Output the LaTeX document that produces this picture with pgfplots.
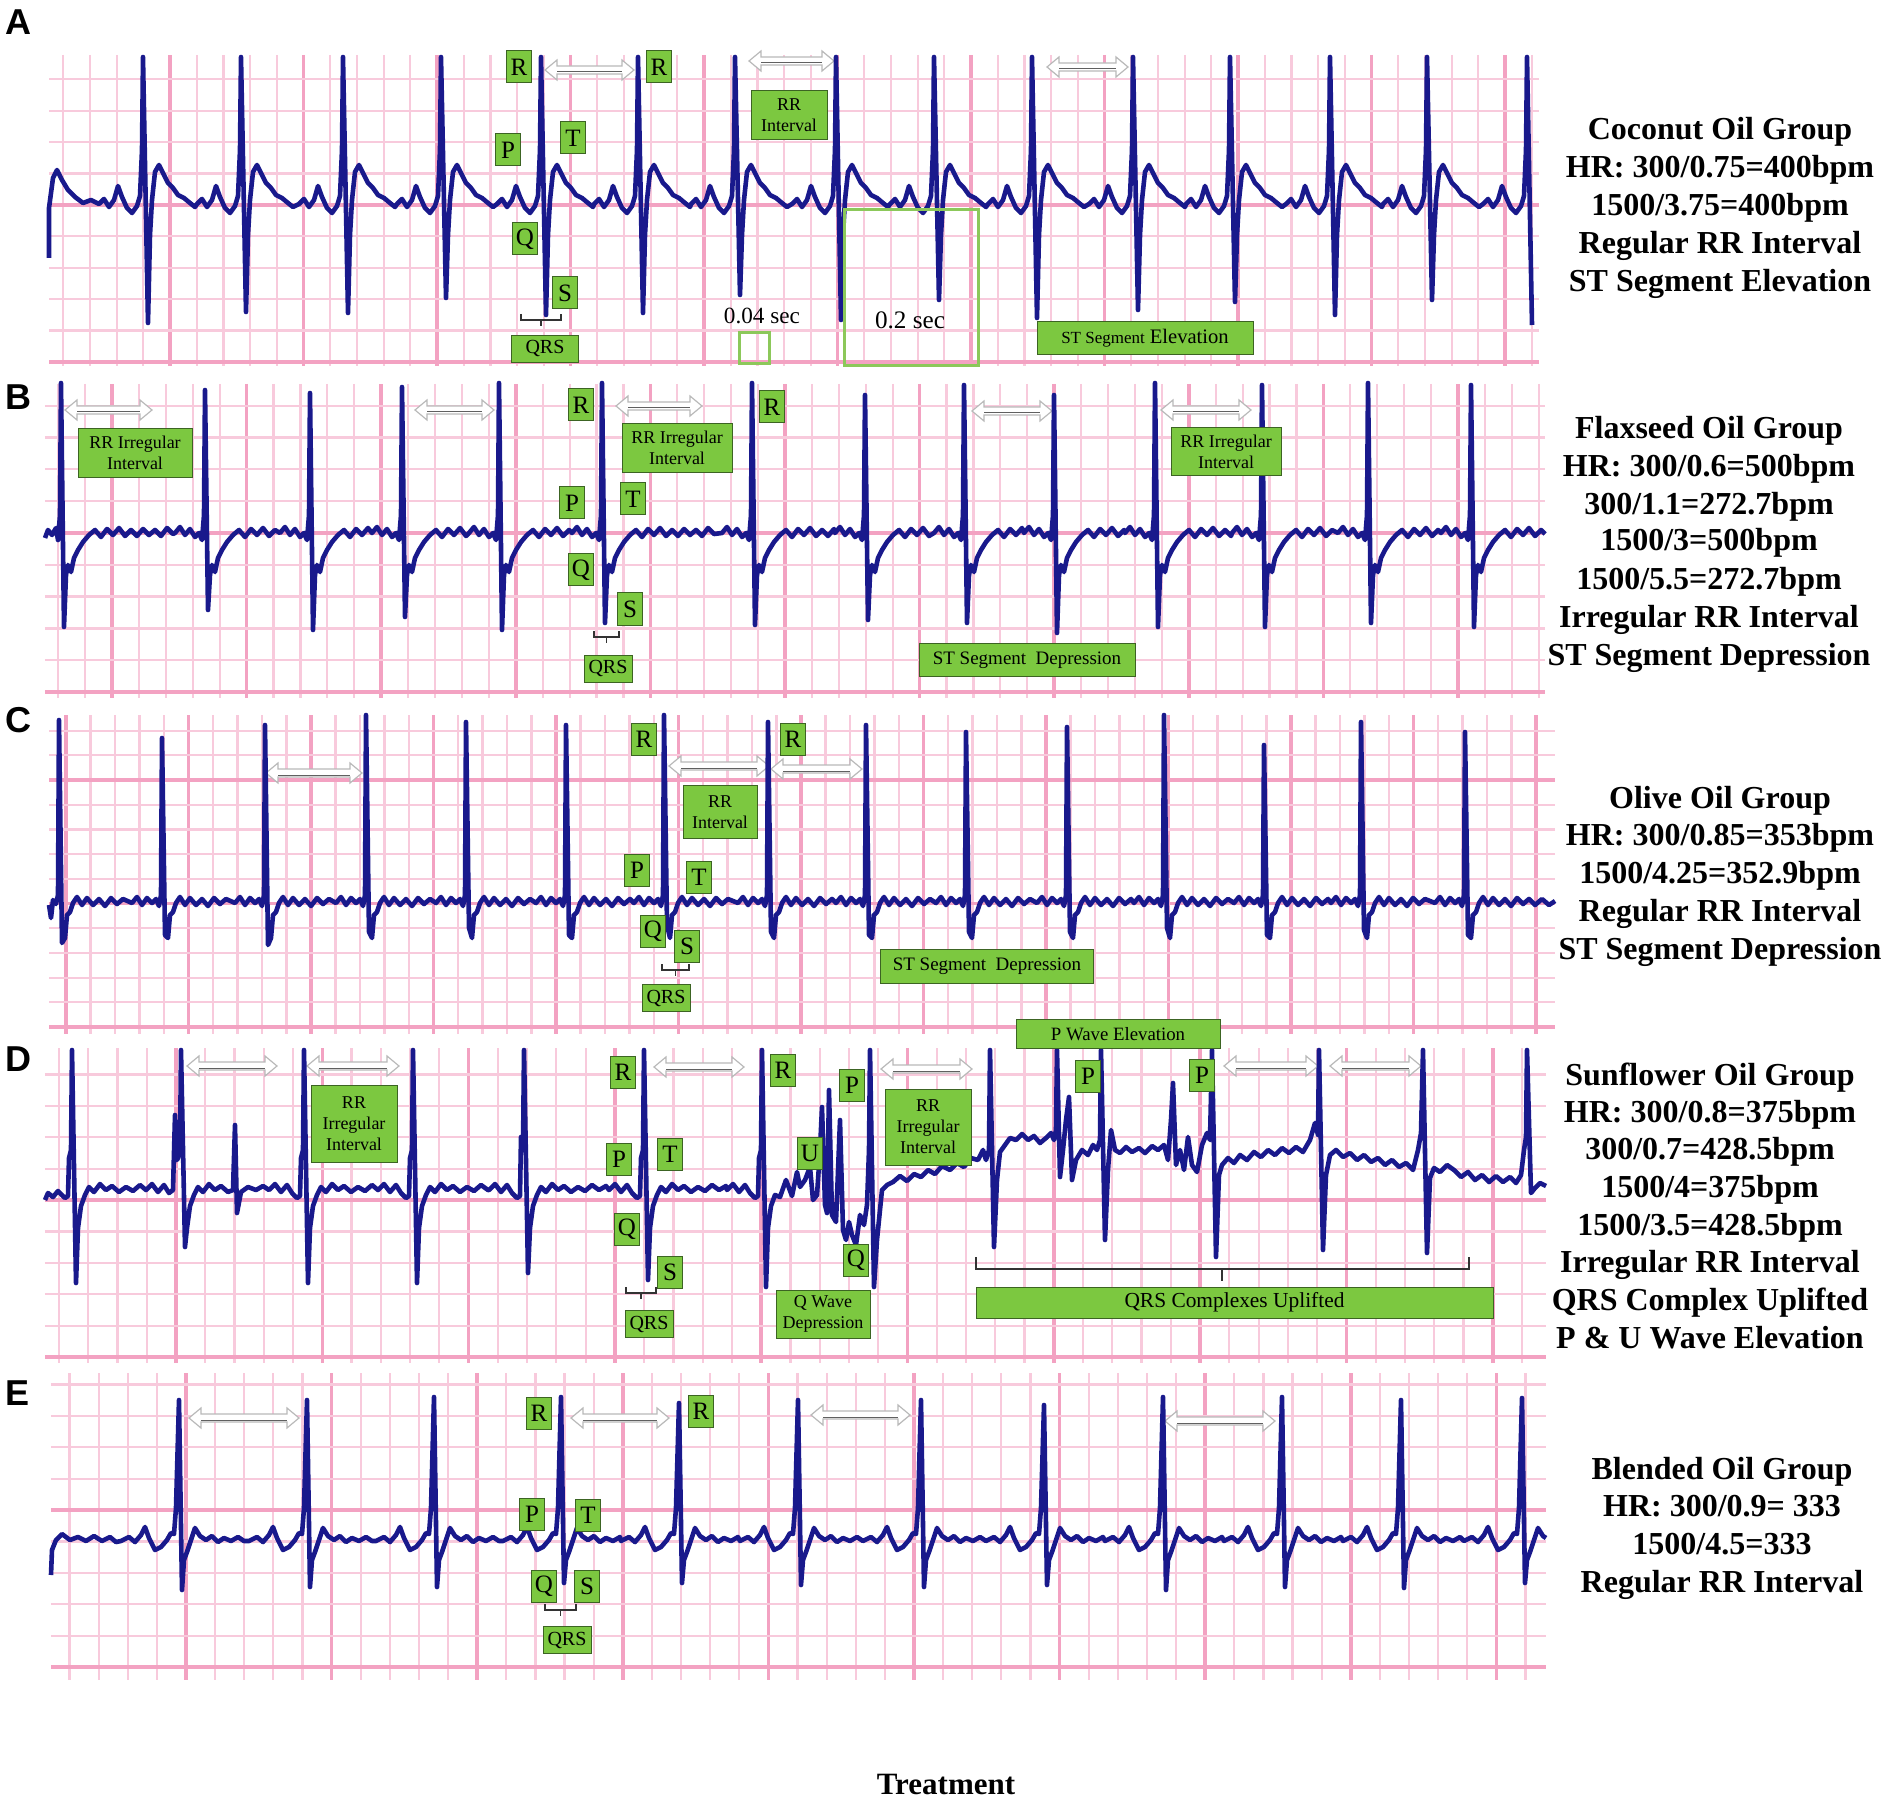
\documentclass[border=0pt]{standalone}
\usepackage{pgfplots}
\pgfplotsset{compat=1.18}
\usepackage{fontspec}
\setmainfont{Liberation Serif}
\newfontfamily\panelfont{Liberation Sans}
\definecolor{ecg}{RGB}{25,25,140}
\definecolor{gmaj}{RGB}{243,162,194}
\definecolor{gmin}{RGB}{248,202,220}
\definecolor{lg}{RGB}{124,200,64}
\definecolor{lgd}{RGB}{60,100,35}
\definecolor{sq}{RGB}{140,200,90}
\tikzset{gbox/.style={fill=lg, draw=lgd, line width=0.5pt, inner sep=1pt, align=center, text=black}}
\newcommand{\fs}[2]{\fontsize{#1}{#2}\selectfont}
\newcommand{\lbox}[2]{\node[gbox,minimum width=12.5pt,minimum height=16pt,font=\fs{12.5}{14}] at (axis cs:#1) {#2};}
\newcommand{\gbx}[3]{\node[gbox,#1] at (axis cs:#2) {#3};}
\newcommand{\dar}[3]{%
\filldraw[fill=white, draw=gray!55, line width=0.6pt] (axis cs:#1,#3) -- (axis cs:{#1+12},{#3-10}) -- (axis cs:{#1+12},{#3-4}) -- (axis cs:{#2-12},{#3-4}) -- (axis cs:{#2-12},{#3-10}) -- (axis cs:#2,#3) -- (axis cs:{#2-12},{#3+10}) -- (axis cs:{#2-12},{#3+4}) -- (axis cs:{#1+12},{#3+4}) -- (axis cs:{#1+12},{#3+10}) -- cycle;
\draw[gray!75!black, line width=0.5pt] (axis cs:{#1+12},{#3+2}) -- (axis cs:{#2-12},{#3+2});}
\newcommand{\qb}[3]{%
\draw[black!80, line width=0.8pt] (axis cs:#1,{#3-6}) -- (axis cs:#1,#3) -- (axis cs:#2,#3) -- (axis cs:#2,{#3-6});
\draw[black!80, line width=0.8pt] (axis cs:{(#1+#2)/2},#3) -- (axis cs:{(#1+#2)/2},{#3+6});}
\newcommand{\rtfont}{\fs{16}{19}\bfseries}
\newcommand{\rt}[2]{\node[anchor=base,font=\rtfont] at (axis cs:#1) {#2};}
\newcommand{\plabel}[2]{\node[font=\panelfont\fs{18}{20}\bfseries] at (axis cs:#1) {#2};}
\pgfplotsset{ecgax/.style={scale only axis, y dir=reverse, clip=false, grid=both,
  major grid style={gmaj,line width=1.8pt}, minor grid style={gmin,line width=1.1pt},
  axis line style={draw=none}, major tick length=0pt, minor tick length=0pt,
  xticklabels={}, yticklabels={}, anchor=north west},
  trace/.style={ecg, line width=2.3pt, line join=round, mark=none}}
\begin{document}
\begin{tikzpicture}
\useasboundingbox (0,0) rectangle (951pt,-903.5pt);
% ---------------- Panel A ----------------
\begin{axis}[ecgax, at={(24.5pt,-27.5pt)}, width=745pt, height=155.5pt,
  xmin=49, xmax=1539, ymin=55, ymax=366,
  xtick={170,303.5,...,1540}, minor xtick={63.2,89.9,...,1540},
  ytick={205,362}, minor ytick={79.4,110.8,...,366}]
\dar{545}{634}{70}\dar{749}{834}{61}\dar{1047}{1128}{67}
\addplot[trace] coordinates {(49,258) (49,208) (53,178) (57,170) (62,180) (68,190) (75,197) (83,203) (91,200)
(99,204) (104,199) (109,207) (114,200) (118,186) (122,197) (127,208) (132,213) (137,206) (140,196) (142,150) (143,57) (148,323) (150,235) (152,200) (155,172) (159,165) (163,173) (168,183) (173,188) (178,195) (184,198) (190,203) (195,207)
(197,204) (202,199) (207,207) (212,200) (216,186) (220,197) (225,208) (230,213) (235,206) (238,196) (240,150) (241,57) (246,312) (248,235) (250,200) (253,172) (257,165) (261,173) (266,183) (271,188) (276,195) (282,198) (288,203) (293,207)
(299,204) (304,199) (309,207) (314,200) (318,186) (322,197) (327,208) (332,213) (337,206) (340,196) (342,150) (343,57) (348,313) (350,235) (352,200) (355,172) (359,165) (363,173) (368,183) (373,188) (378,195) (384,198) (390,203) (395,207)
(397,204) (402,199) (407,207) (412,200) (416,186) (420,197) (425,208) (430,213) (435,206) (438,196) (440,150) (441,57) (446,298) (448,235) (450,200) (453,172) (457,165) (461,173) (466,183) (471,188) (476,195) (482,198) (488,203) (493,207)
(497,204) (502,199) (507,207) (512,200) (516,186) (520,197) (525,208) (530,213) (535,206) (538,196) (540,150) (541,57) (546,315) (548,235) (550,200) (553,172) (557,165) (561,173) (566,183) (571,188) (576,195) (582,198) (588,203) (593,207)
(594,204) (599,199) (604,207) (609,200) (613,186) (617,197) (622,208) (627,213) (632,206) (635,196) (637,150) (638,57) (643,313) (645,235) (647,200) (650,172) (654,165) (658,173) (663,183) (668,188) (673,195) (679,198) (685,203) (690,207)
(691,204) (696,199) (701,207) (706,200) (710,186) (714,197) (719,208) (724,213) (729,206) (732,196) (734,150) (735,57) (740,295) (742,235) (744,200) (747,172) (751,165) (755,173) (760,183) (765,188) (770,195) (776,198) (782,203) (787,207)
(792,204) (797,199) (802,207) (807,200) (811,186) (815,197) (820,208) (825,213) (830,206) (833,196) (835,150) (836,57) (841,320) (843,235) (845,200) (848,172) (852,165) (856,173) (861,183) (866,188) (871,195) (877,198) (883,203) (888,207)
(890,204) (895,199) (900,207) (905,200) (909,186) (913,197) (918,208) (923,213) (928,206) (931,196) (933,150) (934,57) (939,300) (941,235) (943,200) (946,172) (950,165) (954,173) (959,183) (964,188) (969,195) (975,198) (981,203) (986,207)
(988,204) (993,199) (998,207) (1003,200) (1007,186) (1011,197) (1016,208) (1021,213) (1026,206) (1029,196) (1031,150) (1032,57) (1037,318) (1039,235) (1041,200) (1044,172) (1048,165) (1052,173) (1057,183) (1062,188) (1067,195) (1073,198) (1079,203) (1084,207)
(1089,204) (1094,199) (1099,207) (1104,200) (1108,186) (1112,197) (1117,208) (1122,213) (1127,206) (1130,196) (1132,150) (1133,57) (1138,310) (1140,235) (1142,200) (1145,172) (1149,165) (1153,173) (1158,183) (1163,188) (1168,195) (1174,198) (1180,203) (1185,207)
(1186,204) (1191,199) (1196,207) (1201,200) (1205,186) (1209,197) (1214,208) (1219,213) (1224,206) (1227,196) (1229,150) (1230,57) (1235,302) (1237,235) (1239,200) (1242,172) (1246,165) (1250,173) (1255,183) (1260,188) (1265,195) (1271,198) (1277,203) (1282,207)
(1286,204) (1291,199) (1296,207) (1301,200) (1305,186) (1309,197) (1314,208) (1319,213) (1324,206) (1327,196) (1329,150) (1330,57) (1335,315) (1337,235) (1339,200) (1342,172) (1346,165) (1350,173) (1355,183) (1360,188) (1365,195) (1371,198) (1377,203) (1382,207)
(1383,204) (1388,199) (1393,207) (1398,200) (1402,186) (1406,197) (1411,208) (1416,213) (1421,206) (1424,196) (1426,150) (1427,57) (1432,300) (1434,235) (1436,200) (1439,172) (1443,165) (1447,173) (1452,183) (1457,188) (1462,195) (1468,198) (1474,203) (1479,207)
(1483,204) (1488,199) (1493,207) (1498,200) (1502,186) (1506,197) (1511,208) (1516,213) (1521,206) (1524,196) (1526,150) (1527,57) (1532,325)};
\lbox{519,67}{R}\lbox{659,67}{R}\lbox{508,150}{P}\lbox{573,138}{T}\lbox{525,239}{Q}\lbox{565,293}{S}
\gbx{minimum width=38pt,minimum height=24.5pt,font=\fs{9}{10.5}}{789,115}{RR\\Interval}
\qb{521}{561}{320}
\gbx{minimum width=33.5pt,minimum height=13.5pt,font=\fs{10}{11}}{545,349}{QRS}
\node[font=\fs{11.6}{13}] at (axis cs:762,316) {0.04 sec};
\node[font=\fs{12.6}{14}] at (axis cs:910,320) {0.2 sec};
\draw[sq, line width=1.5pt] (axis cs:739,333) rectangle (axis cs:769,364);
\draw[sq, line width=1.5pt] (axis cs:844,210) rectangle (axis cs:978,366);
\gbx{minimum width=108pt,minimum height=16.5pt}{1145,338}{{\fs{8.5}{10}ST Segment} {\fs{10.3}{12}Elevation}}
\plabel{18,22}{A}
\rt{1720,140}{Coconut Oil Group}
\rt{1720,178}{HR: 300/0.75=400bpm}
\rt{1720,216}{1500/3.75=400bpm}
\rt{1720,254}{Regular RR Interval}
\rt{1720,292}{ST Segment Elevation}
\end{axis}
% ---------------- Panel B ----------------
\begin{axis}[ecgax, at={(22.5pt,-192pt)}, width=750pt, height=157pt,
  xmin=45, xmax=1545, ymin=384, ymax=698,
  xtick={112,246.6,...,1546}, minor xtick={58.16,85.08,...,1546},
  ytick={533,692}, minor ytick={405.8,437.6,...,698}]
\dar{65}{152}{410}\dar{415}{494}{410}\dar{616}{702}{406}\dar{972}{1052}{411}\dar{1161}{1251}{410}
\addplot[trace] coordinates {(45,538) (48,530) (52,535) (56,528) (58,540) (60,515) (61,383) (64,627) (66,575) (68,565) (71,572) (74,558) (78,550) (83,542) (89,535) (95,530) (101,537) (107,529) (113,535) (119,528) (125,536) (131,530) (137,536) (143,529) (149,535) (155,530) (161,536) (167,528) (173,534)
(175,533) (180,527) (185,535) (190,529) (195,537) (199,533) (202,540) (204,515) (205,390) (208,610) (210,575) (212,565) (215,572) (218,558) (222,550) (227,542) (233,535) (239,530) (245,537) (251,529) (257,535) (263,528) (269,536) (275,530)
(280,533) (285,527) (290,535) (295,529) (300,537) (304,533) (307,540) (309,515) (310,393) (313,630) (315,575) (317,565) (320,572) (323,558) (327,550) (332,542) (338,535) (344,530) (350,537) (356,529) (362,535) (368,528)
(372,533) (377,527) (382,535) (387,529) (392,537) (396,533) (399,540) (401,515) (402,387) (405,617) (407,575) (409,565) (412,572) (415,558) (419,550) (424,542) (430,535) (436,530) (442,537) (448,529) (454,535) (460,528) (466,536)
(469,533) (474,527) (479,535) (484,529) (489,537) (493,533) (496,540) (498,515) (499,383) (502,630) (504,575) (506,565) (509,572) (512,558) (516,550) (521,542) (527,535) (533,530) (539,537) (545,529) (551,535) (557,528) (563,536) (569,530)
(572,533) (577,527) (582,535) (587,529) (592,537) (596,533) (599,540) (601,515) (602,383) (605,623) (607,575) (609,565) (612,572) (615,558) (619,550) (624,542) (630,535) (636,530) (642,537) (648,529) (654,535) (660,528) (666,536) (672,530) (678,536) (684,529) (690,535) (696,530) (702,536) (708,528) (714,534)
(722,533) (727,527) (732,535) (737,529) (742,537) (746,533) (749,540) (751,515) (752,383) (755,625) (757,575) (759,565) (762,572) (765,558) (769,550) (774,542) (780,535) (786,530) (792,537) (798,529) (804,535) (810,528) (816,536) (822,530) (828,536) (834,529)
(835,533) (840,527) (845,535) (850,529) (855,537) (859,533) (862,540) (864,515) (865,395) (868,620) (870,575) (872,565) (875,572) (878,558) (882,550) (887,542) (893,535) (899,530) (905,537) (911,529) (917,535) (923,528) (929,536)
(934,533) (939,527) (944,535) (949,529) (954,537) (958,533) (961,540) (963,515) (964,385) (967,623) (969,575) (971,565) (974,572) (977,558) (981,550) (986,542) (992,535) (998,530) (1004,537) (1010,529) (1016,535) (1022,528)
(1024,533) (1029,527) (1034,535) (1039,529) (1044,537) (1048,533) (1051,540) (1053,515) (1054,395) (1057,633) (1059,575) (1061,565) (1064,572) (1067,558) (1071,550) (1076,542) (1082,535) (1088,530) (1094,537) (1100,529) (1106,535) (1112,528) (1118,536) (1124,530)
(1125,533) (1130,527) (1135,535) (1140,529) (1145,537) (1149,533) (1152,540) (1154,515) (1155,383) (1158,627) (1160,575) (1162,565) (1165,572) (1168,558) (1172,550) (1177,542) (1183,535) (1189,530) (1195,537) (1201,529) (1207,535) (1213,528) (1219,536) (1225,530) (1231,536)
(1232,533) (1237,527) (1242,535) (1247,529) (1252,537) (1256,533) (1259,540) (1261,515) (1262,385) (1265,627) (1267,575) (1269,565) (1272,572) (1275,558) (1279,550) (1284,542) (1290,535) (1296,530) (1302,537) (1308,529) (1314,535) (1320,528) (1326,536) (1332,530)
(1338,533) (1343,527) (1348,535) (1353,529) (1358,537) (1362,533) (1365,540) (1367,515) (1368,383) (1371,623) (1373,575) (1375,565) (1378,572) (1381,558) (1385,550) (1390,542) (1396,535) (1402,530) (1408,537) (1414,529) (1420,535) (1426,528) (1432,536) (1438,530)
(1441,533) (1446,527) (1451,535) (1456,529) (1461,537) (1465,533) (1468,540) (1470,515) (1471,385) (1474,627) (1476,575) (1478,565) (1481,572) (1484,558) (1488,550) (1493,542) (1499,535) (1505,530) (1511,537) (1517,529) (1523,535) (1529,528) (1535,536) (1541,530) (1545,534)};
\gbx{minimum width=57pt,minimum height=24.5pt,font=\fs{9}{10.5}}{135,453}{RR Irregular\\Interval}
\gbx{minimum width=55pt,minimum height=24.5pt,font=\fs{9}{10.5}}{677,448}{RR Irregular\\Interval}
\gbx{minimum width=55pt,minimum height=24pt,font=\fs{9}{10.5}}{1226,452}{RR Irregular\\Interval}
\lbox{581,405}{R}\lbox{772,407}{R}\lbox{572,503}{P}\lbox{633,499}{T}\lbox{581,570}{Q}\lbox{630,609}{S}
\qb{594}{619}{637}
\gbx{minimum width=24pt,minimum height=13.5pt,font=\fs{10}{11}}{608,669}{QRS}
\gbx{minimum width=108pt,minimum height=16.5pt,font=\fs{9.5}{11}}{1027,660}{ST Segment\ \ Depression}
\plabel{18,397}{B}
\rt{1709,439}{Flaxseed Oil Group}
\rt{1709,477}{HR: 300/0.6=500bpm}
\rt{1709,515}{300/1.1=272.7bpm}
\rt{1709,551}{1500/3=500bpm}
\rt{1709,589}{1500/5.5=272.7bpm}
\rt{1709,627}{Irregular RR Interval}
\rt{1709,665}{ST Segment Depression}
\end{axis}
% ---------------- Panel C ----------------
\begin{axis}[ecgax, at={(24.5pt,-357.5pt)}, width=753pt, height=159.5pt,
  xmin=49, xmax=1555, ymin=715, ymax=1034,
  xtick={66,188.5,...,1556}, minor xtick={66,90.5,...,1556},
  ytick={780,903.5,1027}, minor ytick={730.6,755.3,...,1034}]
\dar{266}{362}{773}\dar{669}{769}{766}\dar{771}{862}{769}
\addplot[trace] coordinates {(49,905) (51,918) (53,900) (56,904) (58,895) (59,720) (62,943) (65,938) (67,915) (70,912) (73,903) (77,897) (82,905) (87,898) (93,905) (99,899) (105,906) (111,898) (117,904) (123,899)
(132,903) (137,897) (142,905) (147,898) (152,903) (156,899) (159,906) (161,895) (162,738) (165,935) (168,938) (170,915) (173,912) (176,903) (180,897) (185,905) (190,898) (196,905) (202,899) (208,906) (214,898) (220,904) (226,899)
(235,903) (240,897) (245,905) (250,898) (255,903) (259,899) (262,906) (264,895) (265,725) (268,945) (271,938) (273,915) (276,912) (279,903) (283,897) (288,905) (293,898) (299,905) (305,899) (311,906) (317,898) (323,904) (329,899)
(336,903) (341,897) (346,905) (351,898) (356,903) (360,899) (363,906) (365,895) (366,715) (369,932) (372,938) (374,915) (377,912) (380,903) (384,897) (389,905) (394,898) (400,905) (406,899) (412,906) (418,898) (424,904) (430,899)
(436,903) (441,897) (446,905) (451,898) (456,903) (460,899) (463,906) (465,895) (466,722) (469,928) (472,938) (474,915) (477,912) (480,903) (484,897) (489,905) (494,898) (500,905) (506,899) (512,906) (518,898) (524,904) (530,899)
(536,903) (541,897) (546,905) (551,898) (556,903) (560,899) (563,906) (565,895) (566,725) (569,935) (572,938) (574,915) (577,912) (580,903) (584,897) (589,905) (594,898) (600,905) (606,899) (612,906) (618,898) (624,904) (630,899)
(634,903) (639,897) (644,905) (649,898) (654,903) (658,899) (661,906) (663,895) (664,715) (667,925) (670,938) (672,915) (675,912) (678,903) (682,897) (687,905) (692,898) (698,905) (704,899) (710,906) (716,898) (722,904) (728,899)
(738,903) (743,897) (748,905) (753,898) (758,903) (762,899) (765,906) (767,895) (768,722) (771,932) (774,938) (776,915) (779,912) (782,903) (786,897) (791,905) (796,898) (802,905) (808,899) (814,906) (820,898) (826,904) (832,899)
(836,903) (841,897) (846,905) (851,898) (856,903) (860,899) (863,906) (865,895) (866,725) (869,935) (872,938) (874,915) (877,912) (880,903) (884,897) (889,905) (894,898) (900,905) (906,899) (912,906) (918,898) (924,904) (930,899)
(936,903) (941,897) (946,905) (951,898) (956,903) (960,899) (963,906) (965,895) (966,732) (969,932) (972,938) (974,915) (977,912) (980,903) (984,897) (989,905) (994,898) (1000,905) (1006,899) (1012,906) (1018,898) (1024,904) (1030,899)
(1037,903) (1042,897) (1047,905) (1052,898) (1057,903) (1061,899) (1064,906) (1066,895) (1067,727) (1070,932) (1073,938) (1075,915) (1078,912) (1081,903) (1085,897) (1090,905) (1095,898) (1101,905) (1107,899) (1113,906) (1119,898) (1125,904) (1131,899)
(1134,903) (1139,897) (1144,905) (1149,898) (1154,903) (1158,899) (1161,906) (1163,895) (1164,715) (1167,928) (1170,938) (1172,915) (1175,912) (1178,903) (1182,897) (1187,905) (1192,898) (1198,905) (1204,899) (1210,906) (1216,898) (1222,904) (1228,899)
(1234,903) (1239,897) (1244,905) (1249,898) (1254,903) (1258,899) (1261,906) (1263,895) (1264,745) (1267,935) (1270,938) (1272,915) (1275,912) (1278,903) (1282,897) (1287,905) (1292,898) (1298,905) (1304,899) (1310,906) (1316,898) (1322,904) (1328,899)
(1331,903) (1336,897) (1341,905) (1346,898) (1351,903) (1355,899) (1358,906) (1360,895) (1361,722) (1364,930) (1367,938) (1369,915) (1372,912) (1375,903) (1379,897) (1384,905) (1389,898) (1395,905) (1401,899) (1407,906) (1413,898) (1419,904) (1425,899)
(1435,903) (1440,897) (1445,905) (1450,898) (1455,903) (1459,899) (1462,906) (1464,895) (1465,732) (1468,935) (1471,938) (1473,915) (1476,912) (1479,903) (1483,897) (1488,905) (1493,898) (1499,905) (1505,899) (1511,906) (1517,898) (1523,904) (1529,899) (1535,905) (1542,899) (1549,905) (1555,901)};
\lbox{644,739}{R}\lbox{793,739}{R}\lbox{637,870}{P}\lbox{699,877}{T}\lbox{653,931}{Q}\lbox{687,946}{S}
\gbx{minimum width=37pt,minimum height=26.5pt,font=\fs{9}{10.5}}{720,812}{RR\\Interval}
\qb{662}{689}{970}
\gbx{minimum width=24pt,minimum height=13.5pt,font=\fs{10}{11}}{666,998}{QRS}
\gbx{minimum width=106.5pt,minimum height=17pt,font=\fs{9.5}{11}}{987,966}{ST Segment\ \ Depression}
\plabel{18,720}{C}
\rt{1720,808}{Olive Oil Group}
\rt{1720,845}{HR: 300/0.85=353bpm}
\rt{1720,883}{1500/4.25=352.9bpm}
\rt{1720,921}{Regular RR Interval}
\rt{1720,959}{ST Segment Depression}
\end{axis}
% ---------------- Panel D ----------------
\begin{axis}[ecgax, at={(22.5pt,-524pt)}, width=750.5pt, height=157.5pt,
  xmin=45, xmax=1546, ymin=1048, ymax=1363,
  xtick={176,322.3,...,1547}, minor xtick={58.96,88.22,...,1547},
  ytick={1200,1357}, minor ytick={1074.4,1105.8,...,1363}]
\dar{187}{277}{1066}\dar{307}{399}{1066}\dar{654}{744}{1067}\dar{881}{972}{1069}\dar{1224}{1318}{1066}\dar{1330}{1421}{1066}
\addplot[trace] coordinates {(45,1200) (48,1193) (53,1197) (58,1191) (62,1195) (65,1198) (68,1196) (69,1158) (71,1150) (72,1050) (76,1283) (78,1228) (81,1206) (85,1195) (89,1187) (94,1192) (100,1184) (106,1190) (112,1186) (119,1192) (126,1187) (133,1191) (140,1185)
(146,1190) (152,1184) (158,1192) (164,1185) (169,1193) (173,1190) (175,1115) (177,1160) (178,1158) (180,1150) (181,1050) (185,1247) (187,1228) (190,1206) (194,1195) (198,1187) (203,1192) (209,1184) (215,1190) (221,1186) (228,1192) (233,1190) (235,1125) (237,1213) (241,1192) (248,1187) (256,1190) (263,1186)
(269,1190) (275,1184) (281,1192) (287,1185) (292,1193) (297,1198) (300,1196) (301,1158) (303,1150) (304,1050) (308,1283) (310,1228) (313,1206) (317,1195) (321,1187) (326,1192) (332,1184) (338,1190) (344,1186) (351,1192) (358,1187) (365,1191) (372,1185)
(378,1190) (384,1184) (390,1192) (396,1185) (401,1193) (406,1198) (409,1196) (410,1158) (412,1150) (413,1050) (417,1283) (419,1228) (422,1206) (426,1195) (430,1187) (435,1192) (441,1184) (447,1190) (453,1186) (460,1192) (467,1187) (474,1191) (481,1185) (488,1190)
(489,1190) (495,1184) (501,1192) (507,1185) (512,1193) (517,1198) (520,1196) (521,1137) (523,1150) (524,1050) (528,1273) (530,1228) (533,1206) (537,1195) (541,1187) (546,1192) (552,1184) (558,1190) (564,1186) (571,1192) (578,1187) (585,1191) (592,1185) (599,1190) (606,1186)
(609,1190) (615,1184) (621,1192) (627,1185) (632,1193) (637,1198) (640,1196) (641,1158) (643,1150) (644,1050) (648,1280) (650,1228) (653,1206) (657,1195) (661,1187) (666,1192) (672,1184) (678,1190) (684,1186) (691,1192) (698,1187) (705,1191) (712,1185) (719,1190) (726,1186)
(727,1190) (733,1184) (739,1192) (745,1185) (750,1193) (755,1198) (758,1196) (759,1158) (761,1150) (762,1050) (766,1287) (768,1228) (771,1206) (775,1195) (780,1197) (786,1180) (792,1196) (797,1172)
(800,1187) (805,1180) (810,1167) (813,1200) (817,1195) (820,1150) (822,1107) (825,1205) (827,1213) (829,1090) (832,1215) (836,1222) (840,1120) (843,1230) (846,1240) (849,1222) (852,1235) (856,1245) (860,1215) (864,1225) (867,1205) (869,1150) (870,1050) (874,1287) (877,1240) (879,1220) (882,1190) (887,1185)
(893,1182) (900,1176) (907,1181) (914,1174) (921,1177) (928,1170) (935,1174) (942,1166) (950,1170) (957,1163) (964,1167) (971,1158) (978,1160) (983,1150) (986,1160) (989,1150) (990,1050) (994,1247) (997,1180) (1000,1152) (1005,1145) (1010,1138) (1016,1140) (1022,1134) (1028,1140) (1034,1136) (1040,1143) (1046,1138) (1051,1133) (1054,1140) (1056,1130) (1057,1050) (1060,1177) (1063,1150) (1066,1120) (1069,1097) (1072,1180) (1076,1160) (1082,1150) (1088,1155) (1093,1145) (1097,1150) (1100,1140) (1101,1050) (1105,1240) (1108,1170) (1111,1130) (1115,1150) (1120,1153) (1126,1147) (1132,1152) (1139,1148) (1145,1153) (1152,1146) (1158,1150) (1164,1145) (1168,1160) (1171,1120) (1173,1083) (1176,1165) (1180,1150) (1184,1170) (1188,1137) (1192,1165) (1197,1172) (1202,1145) (1207,1133) (1210,1140) (1212,1050) (1216,1257) (1219,1175) (1222,1165) (1228,1158) (1234,1163) (1240,1155) (1247,1160) (1254,1152) (1261,1157) (1268,1150) (1275,1155) (1282,1148) (1289,1153) (1296,1147) (1303,1152) (1310,1140) (1315,1123) (1318,1135) (1319,1050) (1323,1250) (1326,1175) (1330,1155) (1336,1150) (1343,1157) (1350,1153) (1357,1160) (1364,1155) (1371,1162) (1378,1158) (1385,1165) (1392,1160) (1399,1167) (1406,1163) (1413,1170) (1418,1150) (1421,1133) (1423,1050) (1427,1253) (1430,1178) (1434,1168) (1440,1172) (1447,1165) (1454,1170) (1461,1177) (1468,1172) (1475,1180) (1482,1175) (1489,1182) (1496,1176) (1503,1182) (1510,1177) (1516,1183) (1521,1175) (1524,1150) (1526,1137) (1527,1050) (1531,1193) (1535,1188) (1540,1183) (1546,1186)};
\gbx{minimum width=43pt,minimum height=38.5pt,font=\fs{9}{10.5}}{354,1124}{RR\\Irregular\\Interval}
\gbx{minimum width=43pt,minimum height=38pt,font=\fs{9}{10.5}}{928,1127}{RR\\Irregular\\Interval}
\lbox{623,1072}{R}\lbox{783,1070}{R}\lbox{852,1085}{P}\lbox{619,1159}{P}\lbox{670,1154}{T}\lbox{810,1153}{U}
\lbox{1088,1076}{P}\lbox{1202,1075}{P}\lbox{627,1229}{Q}\lbox{670,1272}{S}\lbox{856,1260}{Q}
\gbx{minimum width=102pt,minimum height=14.5pt,font=\fs{9.4}{11}}{1118,1034}{P Wave Elevation}
\qb{626}{656}{1293}
\gbx{minimum width=24pt,minimum height=13.5pt,font=\fs{10}{11}}{649,1324}{QRS}
\gbx{minimum width=47pt,minimum height=24pt,font=\fs{9}{10.5}}{823,1314}{Q Wave\\Depression}
\draw[black!80, line width=0.8pt] (axis cs:976,1257) -- (axis cs:976,1269) -- (axis cs:1469,1269) -- (axis cs:1469,1257);
\draw[black!80, line width=0.8pt] (axis cs:1222,1269) -- (axis cs:1222,1281);
\gbx{minimum width=258.5pt,minimum height=15.5pt,font=\fs{10.7}{12}}{1234.5,1302.5}{QRS Complexes Uplifted}
\plabel{18,1059}{D}
\rt{1710,1085}{Sunflower Oil Group}
\rt{1710,1122}{HR: 300/0.8=375bpm}
\rt{1710,1159}{300/0.7=428.5bpm}
\rt{1710,1197}{1500/4=375bpm}
\rt{1710,1235}{1500/3.5=428.5bpm}
\rt{1710,1272}{Irregular RR Interval}
\rt{1710,1310}{QRS Complex Uplifted}
\rt{1710,1348}{P \& U Wave Elevation}
\end{axis}
% ---------------- Panel E ----------------
\begin{axis}[ecgax, at={(25.5pt,-686.5pt)}, width=747.5pt, height=153.5pt,
  xmin=51, xmax=1546, ymin=1373, ymax=1680,
  xtick={186,331.6,...,1547}, minor xtick={69.52,98.64,...,1547},
  ytick={1510,1667}, minor ytick={1384.4,1415.8,...,1680}]
\dar{189}{299}{1418}\dar{571}{669}{1418}\dar{811}{910}{1415}\dar{1165}{1275}{1421}
\addplot[trace] coordinates {(51,1575) (52,1550) (56,1540) (62,1534) (70,1540) (78,1537) (86,1541) (94,1536) (102,1541) (110,1537) (116,1542)
(121,1541) (129,1537) (135,1542) (141,1535) (145,1527) (149,1538) (155,1550) (161,1547) (167,1540) (171,1533) (174,1534) (176,1508) (179,1400) (182,1590) (184,1560) (187,1552) (191,1540) (195,1528) (200,1536) (206,1540) (212,1536) (218,1542) (224,1538) (231,1541) (238,1537) (244,1541)
(249,1541) (257,1537) (263,1542) (269,1535) (273,1527) (277,1538) (283,1550) (289,1547) (295,1540) (299,1533) (302,1534) (304,1508) (307,1400) (310,1587) (312,1560) (315,1552) (319,1540) (323,1528) (328,1536) (334,1540) (340,1536) (346,1542) (352,1538) (359,1541) (366,1537) (372,1541)
(376,1541) (384,1537) (390,1542) (396,1535) (400,1527) (404,1538) (410,1550) (416,1547) (422,1540) (426,1533) (429,1534) (431,1508) (434,1397) (437,1587) (439,1560) (442,1552) (446,1540) (450,1528) (455,1536) (461,1540) (467,1536) (473,1542) (479,1538) (486,1541) (493,1537) (499,1541)
(503,1541) (511,1537) (517,1542) (523,1535) (527,1527) (531,1538) (537,1550) (543,1547) (549,1540) (553,1533) (556,1534) (558,1508) (561,1397) (564,1583) (566,1560) (569,1552) (573,1540) (577,1528) (582,1536) (588,1540) (594,1536) (600,1542) (606,1538) (613,1541) (620,1537)
(621,1541) (629,1537) (635,1542) (641,1535) (645,1527) (649,1538) (655,1550) (661,1547) (667,1540) (671,1533) (674,1534) (676,1508) (679,1403) (682,1583) (684,1560) (687,1552) (691,1540) (695,1528) (700,1536) (706,1540) (712,1536) (718,1542) (724,1538) (731,1541) (738,1537)
(740,1541) (748,1537) (754,1542) (760,1535) (764,1527) (768,1538) (774,1550) (780,1547) (786,1540) (790,1533) (793,1534) (795,1508) (798,1400) (801,1585) (803,1560) (806,1552) (810,1540) (814,1528) (819,1536) (825,1540) (831,1536) (837,1542) (843,1538) (850,1541) (857,1537)
(863,1541) (871,1537) (877,1542) (883,1535) (887,1527) (891,1538) (897,1550) (903,1547) (909,1540) (913,1533) (916,1534) (918,1508) (921,1400) (924,1587) (926,1560) (929,1552) (933,1540) (937,1528) (942,1536) (948,1540) (954,1536) (960,1542) (966,1538) (973,1541) (980,1537)
(986,1541) (994,1537) (1000,1542) (1006,1535) (1010,1527) (1014,1538) (1020,1550) (1026,1547) (1032,1540) (1036,1533) (1039,1534) (1041,1508) (1044,1405) (1047,1585) (1049,1560) (1052,1552) (1056,1540) (1060,1528) (1065,1536) (1071,1540) (1077,1536) (1083,1542) (1089,1538) (1096,1541) (1103,1537)
(1105,1541) (1113,1537) (1119,1542) (1125,1535) (1129,1527) (1133,1538) (1139,1550) (1145,1547) (1151,1540) (1155,1533) (1158,1534) (1160,1508) (1163,1397) (1166,1590) (1168,1560) (1171,1552) (1175,1540) (1179,1528) (1184,1536) (1190,1540) (1196,1536) (1202,1542) (1208,1538) (1215,1541) (1222,1537)
(1224,1541) (1232,1537) (1238,1542) (1244,1535) (1248,1527) (1252,1538) (1258,1550) (1264,1547) (1270,1540) (1274,1533) (1277,1534) (1279,1508) (1282,1397) (1285,1587) (1287,1560) (1290,1552) (1294,1540) (1298,1528) (1303,1536) (1309,1540) (1315,1536) (1321,1542) (1327,1538) (1334,1541) (1341,1537)
(1343,1541) (1351,1537) (1357,1542) (1363,1535) (1367,1527) (1371,1538) (1377,1550) (1383,1547) (1389,1540) (1393,1533) (1396,1534) (1398,1508) (1401,1400) (1404,1588) (1406,1560) (1409,1552) (1413,1540) (1417,1528) (1422,1536) (1428,1540) (1434,1536) (1440,1542) (1446,1538) (1453,1541) (1460,1537)
(1464,1541) (1472,1537) (1478,1542) (1484,1535) (1488,1527) (1492,1538) (1498,1550) (1504,1547) (1510,1540) (1514,1533) (1517,1534) (1519,1508) (1522,1398) (1525,1583) (1527,1560) (1530,1552) (1534,1540) (1538,1528) (1543,1536) (1546,1538)};
\lbox{539,1413}{R}\lbox{701,1411}{R}\lbox{532,1514}{P}\lbox{588,1515}{T}\lbox{544,1586}{Q}\lbox{587,1586}{S}
\qb{545}{576}{1610}
\gbx{minimum width=24pt,minimum height=13.5pt,font=\fs{10}{11}}{567,1640}{QRS}
\plabel{18,1393}{E}
\rt{1722,1479}{Blended Oil Group}
\rt{1722,1516}{HR: 300/0.9= 333}
\rt{1722,1554}{1500/4.5=333}
\rt{1722,1592}{Regular RR Interval}
\node[anchor=base,font=\fs{15.5}{18}\bfseries] at (axis cs:946,1794) {Treatment};
\end{axis}
\end{tikzpicture}
\end{document}
